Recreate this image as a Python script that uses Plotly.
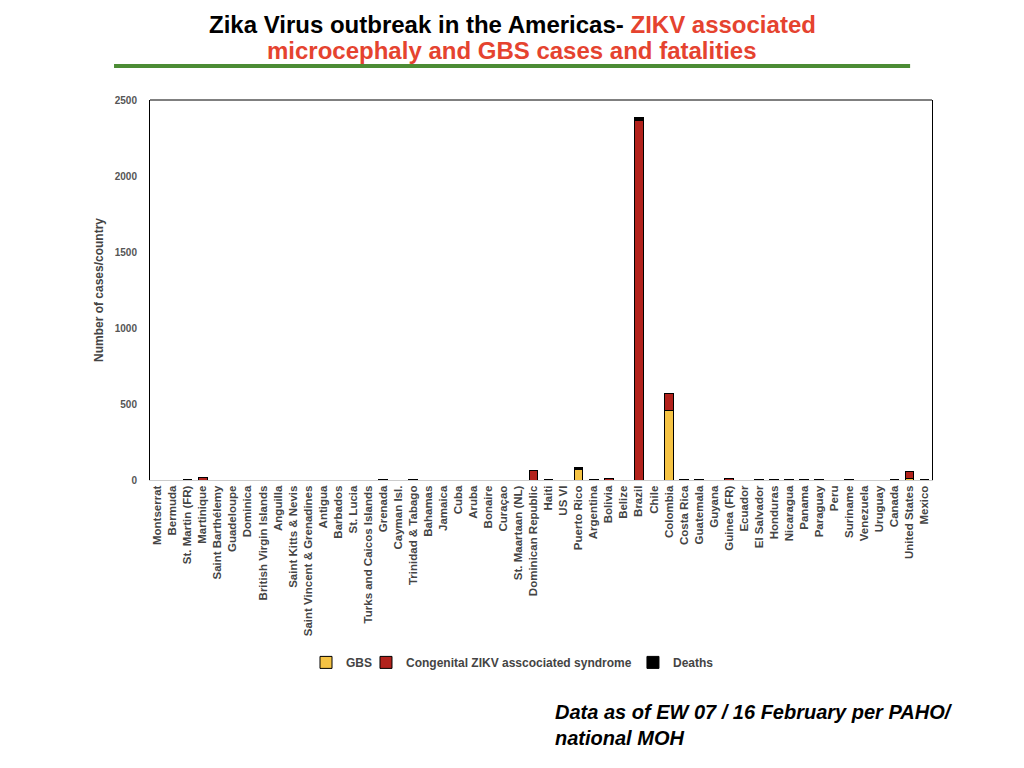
import plotly.graph_objects as go


countries = [
    'Montserrat', 'Bermuda', 'St. Martin (FR)', 'Martinique', 'Saint Barthélemy',
    'Guadeloupe', 'Dominica', 'British Virgin Islands', 'Anguilla', 'Saint Kitts & Nevis',
    'Saint Vincent & Grenadines', 'Antigua', 'Barbados', 'St. Lucia',
    'Turks and Caicos Islands', 'Grenada', 'Cayman Isl.', 'Trinidad & Tabago', 'Bahamas',
    'Jamaica', 'Cuba', 'Aruba', 'Bonaire', 'Curaçao', 'St. Maartaan (NL)',
    'Dominican Republic', 'Haiti', 'US VI', 'Puerto Rico', 'Argentina', 'Bolivia',
    'Belize', 'Brazil', 'Chile', 'Colombia', 'Costa Rica', 'Guatemala', 'Guyana',
    'Guinea (FR)', 'Ecuador', 'El Salvador', 'Honduras', 'Nicaragua', 'Panama',
    'Paraguay', 'Peru', 'Suriname', 'Venezuela', 'Uruguay', 'Canada', 'United States',
    'Mexico',
]

gbs = [
    0, 0, 0, 0, 0, 0, 0, 0, 0, 0, 0, 0, 0, 0, 0, 0, 0, 0, 0, 0, 0, 0, 0, 0, 0,
    0, 0, 0, 66, 0, 0, 0, 0, 0, 460, 0, 0, 0, 0, 0, 0, 0, 0, 0, 0, 0, 0, 0, 0,
    0, 12, 0,
]

congenital = [
    0, 0, 2, 18, 0, 0, 0, 0, 0, 0, 0, 0, 0, 0, 0, 2, 0, 2, 0, 0, 0, 0, 0, 0, 0,
    62, 2, 0, 10, 2, 10, 0, 2366, 0, 110, 2, 2, 0, 10, 0, 2, 2, 2, 2, 2, 0, 2, 0, 0,
    2, 45, 2,
]

deaths = [
    0, 0, 0, 0, 0, 0, 0, 0, 0, 0, 0, 0, 0, 0, 0, 0, 0, 0, 0, 0, 0, 0, 0, 0, 0,
    0, 0, 0, 8, 0, 0, 0, 18, 0, 0, 0, 0, 0, 0, 0, 0, 0, 0, 0, 0, 0, 0, 0, 0,
    0, 0, 0,
]

y_ticks = [0, 500, 1000, 1500, 2000, 2500]

_FONT = 'Liberation Sans, Arial, sans-serif'
_RED = '#e5432f'
_LEGEND_FONT = dict(size=12, family=_FONT, color='#444444', weight='bold')

# the page body adds an 8px margin, so the figure is 8px smaller each way
_W, _H = 1016, 760
_TOP = 92       # plot area top, figure pixels
_PLOT_H = 380   # plot area height, pixels


def _bar(name, values, color, legend):
    return go.Bar(
        x=countries, y=values, name=name, legend=legend,
        marker=dict(color=color, line=dict(color='#000000', width=1)),
    )


def _legend(x):
    return dict(orientation='h', x=x, xanchor='left', y=-0.48, yanchor='middle',
                font=_LEGEND_FONT, itemwidth=30, bgcolor='rgba(0,0,0,0)')


def _title_line(text, fig_y):
    fig.add_annotation(
        text=text, xref='paper', yref='paper',
        x=(512 - 150) / 782, y=1 + (_TOP - fig_y) / _PLOT_H,
        xanchor='center', yanchor='middle', showarrow=False,
        font=dict(size=24, family=_FONT, color=_RED),
    )


fig = go.Figure()
fig.add_trace(_bar('GBS', gbs, '#f5c344', 'legend'))
fig.add_trace(_bar('Congenital ZIKV asscociated syndrome', congenital, '#b2221c', 'legend2'))
fig.add_trace(_bar('Deaths', deaths, '#000000', 'legend3'))

fig.update_layout(
    width=_W, height=_H,
    margin=dict(l=142, r=92, t=_TOP, b=288),
    paper_bgcolor='white', plot_bgcolor='white',
    barmode='stack', bargap=0.42,
    font=dict(family=_FONT, color='#444444'),
    showlegend=True,
    legend=_legend(0.1995),
    legend2=_legend(0.2762),
    legend3=_legend(0.6176),
)

_title_line('<b><span style="color:#000000">Zika Virus outbreak in the Americas- </span>'
            'ZIKV associated</b>', 16)
_title_line('<b>microcephaly and GBS cases and fatalities</b>', 43)

fig.update_xaxes(
    type='category', tickangle=-90,
    tickfont=dict(size=11.5, family=_FONT, color='#444444', weight='bold'),
    showline=True, linecolor='#cccccc', linewidth=1,
    showgrid=False, ticks='',
)
fig.update_yaxes(
    range=[0, 2500], tickvals=y_ticks,
    tickfont=dict(size=10, family=_FONT, color='#555555', weight='bold'),
    showline=True, linecolor='#000000', linewidth=1, mirror=True,
    showgrid=False, zeroline=False, ticks='', ticklabelstandoff=10,
    title=dict(text='<b>Number of cases/country</b>', standoff=8,
               font=dict(size=12, family=_FONT, color='#444444')),
)

# top border of the plot frame
fig.add_shape(type='line', xref='paper', yref='paper', x0=0, x1=1, y0=1, y1=1,
              line=dict(color='#000000', width=1))
# green rule under the title
fig.add_shape(type='line', xref='paper', yref='paper', x0=-0.046, x1=0.972,
              y0=1.0895, y1=1.0895, line=dict(color='#4c8c35', width=4))

fig.add_annotation(
    text='<b><i>Data as of EW 07 / 16 February per PAHO/<br>national MOH</i></b>',
    xref='paper', yref='paper', x=0.515, y=-0.645, xanchor='left', yanchor='middle',
    align='left', showarrow=False,
    font=dict(size=20, family=_FONT, color='#000000'),
)

fig.write_html('out.html')
